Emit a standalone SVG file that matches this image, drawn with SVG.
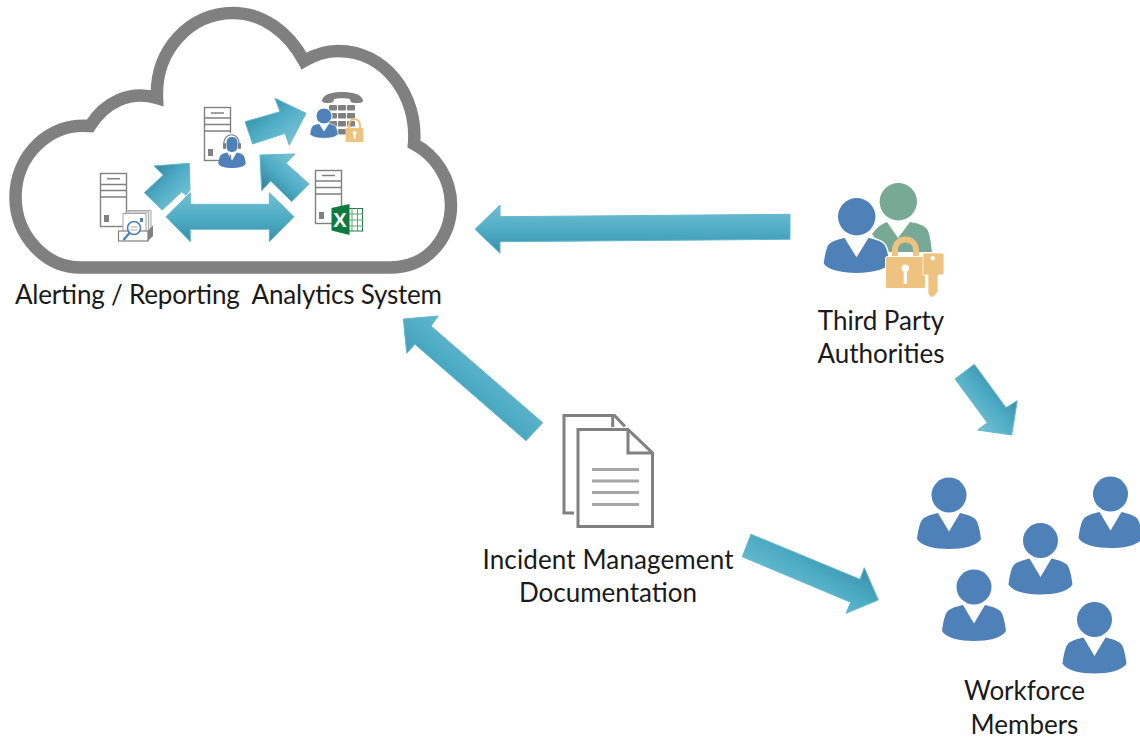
<svg xmlns="http://www.w3.org/2000/svg" width="1140" height="742" viewBox="0 0 1140 742">
<defs>
<linearGradient id="gd" x1="0" y1="0" x2="0" y2="1"><stop offset="0" stop-color="#72bfd3"/><stop offset="0.55" stop-color="#4dabc4"/><stop offset="1" stop-color="#3a8ca6"/></linearGradient>
<linearGradient id="gnw" x1="0.75" y1="0.25" x2="0.25" y2="0.75"><stop offset="0" stop-color="#72bfd3"/><stop offset="0.55" stop-color="#4dabc4"/><stop offset="1" stop-color="#3a8ca6"/></linearGradient>
<linearGradient id="gse" x1="0.25" y1="0.75" x2="0.75" y2="0.25"><stop offset="0" stop-color="#72bfd3"/><stop offset="0.55" stop-color="#4dabc4"/><stop offset="1" stop-color="#3a8ca6"/></linearGradient>
<linearGradient id="gne" x1="0.8" y1="0.8" x2="0.2" y2="0.2"><stop offset="0" stop-color="#72bfd3"/><stop offset="0.55" stop-color="#4dabc4"/><stop offset="1" stop-color="#3a8ca6"/></linearGradient>
<path id="person" d="M-11,0 L0,18.500 L11,0 C17,1.500 24,3 27,7 C30,11 31.500,22 32,26 C28,33 14,36 0,36 C-14,36 -28,33 -32,26 C-31.500,22 -30,11 -27,7 C-24,3 -17,1.500 -11,0 Z"/>
</defs>
<style>
text{font-family:Lato,"Liberation Sans",sans-serif;font-size:26px;fill:#1a1a1a;text-anchor:middle}
.a{stroke:#62b8cd;stroke-width:1;stroke-linejoin:miter}
.p{fill:#4f81b9}
.srv{fill:#fff;stroke:#808080;stroke-width:1.400}
.l{stroke:#808080;stroke-width:1.400;fill:none}
.lock{fill:#eec27f}
.doc{fill:none;stroke:#808080;stroke-width:3}
.key{fill:#808080}
</style>
<rect width="1140" height="742" fill="#fff"/>
<g id="cloud">
<path d="M80,267.500 H390 C430,267.500 451,235 451,205 C451,178 435,155 414,144 C418,95 385,51 338,51 C326,51 314,55 304,61 C288,31 262,13 233,13 C190,13 155,50 157,98 C130,90 105,102 90,126 C50,122 15.500,155 15.500,197 C15.500,235 45,267.500 80,267.500 Z" fill="#fff" stroke="#808080" stroke-width="12.500" stroke-miterlimit="6"/>
</g>
<g id="connectors">
<polygon class="a" fill="url(#gd)" points="790,214.300 790,239.300 500,241.700 500,253.300 475,229.300 500,205 500,216.700"/>
<polygon class="a" fill="url(#gnw)" points="403.300,319 438.300,316 431,326 542.700,422.700 526,440.700 415,344.300 406.700,353.300"/>
<polygon class="a" fill="url(#gse)" points="751,534.300 860,579.300 864.300,567.700 878.300,600 846,613.300 850.700,602.300 742.300,556.700"/>
<polygon class="a" fill="url(#gse)" points="974.300,364.300 1006,407.700 1017.300,400.700 1011.700,435 977.700,430 987.300,422.700 955,379"/>
<polygon class="a" fill="url(#gne)" points="245,121.700 280,111.700 275,98.300 306,113.300 289.300,145 285,133.300 252.700,144"/>
<polygon class="a" fill="url(#gnw)" points="260,155 295,154 286,163.300 309,184 291.700,201.700 270.700,181 261.700,190.700"/>
<polygon class="a" fill="url(#gne)" points="189.300,163.300 154,166 163.300,175 144.300,192.700 162.300,210 181.700,191.700 186,195 190,190"/>
<polygon class="a" fill="url(#gd)" points="166,216.700 190.300,192.700 190.300,204.300 269.300,204.300 269.300,192.700 294,216.700 269.300,241.700 269.300,229.300 190.300,229.300 190.300,241.700"/>
</g>
<g id="server-report">
<rect class="srv" x="100.500" y="173.500" width="26" height="53"/>
<path class="l" d="M100.500,184.500H126.500M100.500,190.500H126.500M100.500,197H126.500"/>
<path d="M107,178.700H120" stroke="#808080" stroke-width="1.500"/>
<rect x="104" y="215" width="5" height="7" fill="#808080"/>
<rect x="128" y="210.500" width="23" height="22" fill="#eee" stroke="#aaa"/>
<rect x="125.500" y="212" width="23" height="22" fill="#f4f4f4" stroke="#aaa"/>
<rect x="123" y="213.500" width="23" height="22" fill="#fff" stroke="#a6a6a6"/>
<rect x="140" y="218" width="3" height="4" fill="#4f81b9"/>
<polygon points="148,231 153,225 153,236 148,241" fill="#808080"/>
<rect x="118.500" y="231" width="29.500" height="10" fill="#fff" stroke="#808080" stroke-width="1.200"/>
<circle cx="134" cy="228" r="6.500" fill="#fff" stroke="#4f81b9" stroke-width="1.600"/>
<path d="M130.500,227H137.500M130.500,230H137.500" stroke="#aaa"/>
<path d="M129.500,233L123.500,240" stroke="#4f81b9" stroke-width="2.500"/>
</g>
<g id="server-agent">
<rect class="srv" x="204.500" y="107.500" width="26" height="53"/>
<path class="l" d="M204.500,118H230.500M204.500,124.500H230.500M204.500,131H230.500"/>
<path d="M211,113H224" stroke="#808080" stroke-width="1.500"/>
<rect x="208" y="149" width="5" height="7" fill="#808080"/>
<circle cx="232" cy="144" r="11" fill="#fff"/>
<path d="M224,146C222,131 241,131 239,146" fill="none" stroke="#808080" stroke-width="1.200"/>
<rect x="223" y="143" width="3" height="6" rx="1" fill="#808080"/>
<rect x="238" y="143" width="3" height="6" rx="1" fill="#808080"/>
<rect x="226.500" y="137" width="11" height="15" rx="5" fill="#4f81b9"/>
<use href="#person" class="p" transform="translate(232,152.500) scale(.43)"/>
</g>
<g id="phone">
<path class="key" d="M322,100C324,94 332,92 342,92C352,92 361,94 363,100C363,103 360,103 355,103C352,103 350,102 350,99C346,98 338,98 334,99C334,102 332,103 328,103C325,103 322,103 322,100Z"/>
<g class="key"><rect x="329" y="105" width="8" height="5.500" rx="1"/><rect x="338" y="105" width="8" height="5.500" rx="1"/><rect x="347" y="105" width="8" height="5.500" rx="1"/><rect x="329" y="113" width="8" height="5.500" rx="1"/><rect x="338" y="113" width="8" height="5.500" rx="1"/><rect x="347" y="113" width="8" height="5.500" rx="1"/><rect x="329" y="121" width="8" height="5.500" rx="1"/><rect x="338" y="121" width="8" height="5.500" rx="1"/><rect x="347" y="121" width="8" height="5.500" rx="1"/><rect x="329" y="129" width="8" height="5.500" rx="1"/><rect x="338" y="129" width="8" height="5.500" rx="1"/></g>
<circle cx="324" cy="116" r="8" class="p" stroke="#fff"/>
<use href="#person" class="p" stroke="#fff" stroke-width="1.500" transform="translate(324,123.500) scale(.44,.41)"/>
<path d="M349,129V125.500C349,117 360,117 360,125.500V129" fill="none" stroke="#eec27f" stroke-width="2.200"/>
<rect class="lock" x="345.500" y="128" width="18" height="14" rx="1"/>
<rect x="353.700" y="133" width="1.800" height="6" fill="#fff"/><circle cx="354.600" cy="133" r="1.900" fill="#fff"/>
</g>
<g id="server-excel">
<rect class="srv" x="315.500" y="170.500" width="26" height="53"/>
<path class="l" d="M315.500,181H341.500M315.500,187.500H341.500M315.500,194H341.500"/>
<path d="M322,175.500H335" stroke="#808080" stroke-width="1.500"/>
<rect x="319" y="212" width="5" height="7" fill="#808080"/>
<rect x="346" y="208.500" width="16.500" height="22.500" fill="#fff" stroke="#1f7a46"/>
<path d="M346,214H363M346,220H363M346,226H363M352,208V231M357.500,208V231" stroke="#57a877" stroke-width="1"/>
<polygon points="331.500,208 349.500,204 349.500,235 331.500,230.500" fill="#0f7a3e"/>
<text x="340" y="227" style="font-size:20px;font-weight:700;fill:#fff;font-family:'Liberation Sans',sans-serif">X</text>
</g>
<g id="authorities">
<circle cx="898.300" cy="201.700" r="18.700" fill="#78a896"/>
<path d="M887,222 L898,238 L910,222 C917,223 923,225 927,229 C930,234 931,244 932,252 H885 L872,234 C876,228 881,224 887,222Z" fill="#78a896"/>
<circle cx="856.700" cy="216.700" r="18.700" class="p"/>
<use href="#person" class="p" stroke="#fff" stroke-width="1.500" transform="translate(856.500,237) scale(1.050,1.020)"/>
<path d="M895,258V250C895,236 916,236 916,250V258" fill="none" stroke="#eec27f" stroke-width="6"/>
<rect x="885.500" y="256.500" width="40" height="32" rx="2" class="lock" stroke="#fff"/>
<circle cx="905.300" cy="268.300" r="3.700" fill="#fff"/><rect x="903.700" y="268" width="3.200" height="16" fill="#fff"/>
<path d="M923,253H942Q944,253 944,255V273Q944,275 942,275H938V292L933,297H930L928,293V275H923Z" class="lock" stroke="#fff" stroke-width=".7"/>
<circle cx="932.700" cy="258.300" r="2.300" fill="#fff"/>
<text x="881" y="330">Third Party</text>
<text x="881" y="363">Authorities</text>
</g>
<g id="documents">
<path class="doc" d="M574,513H564V415.500H614.500L625,426.500"/>
<path class="doc" d="M612.700,415.500V427"/>
<path class="doc" d="M578,429.500H628L652.500,453V526.500H578Z" style="fill:#fff"/>
<path class="doc" d="M628,429.500V453H652.500"/>
<path d="M592,469.500H639M592,481H639M592,492.500H639M592,504.500H639" stroke="#a6a6a6" stroke-width="3"/>
<text x="608" y="569" textLength="251">Incident Management</text>
<text x="608" y="602">Documentation</text>
</g>
<g id="workforce">
<g id="worker-1"><circle cx="949" cy="495" r="17.500" class="p"/><use href="#person" class="p" transform="translate(949,513)"/></g>
<g id="worker-2"><circle cx="1110.500" cy="494" r="17.500" class="p"/><use href="#person" class="p" transform="translate(1110.500,512)"/></g>
<g id="worker-3"><circle cx="1040.500" cy="540.500" r="17.500" class="p"/><use href="#person" class="p" transform="translate(1040.500,558.500)"/></g>
<g id="worker-4"><circle cx="974" cy="587" r="17.500" class="p"/><use href="#person" class="p" transform="translate(974,605)"/></g>
<g id="worker-5"><circle cx="1094.500" cy="619.500" r="17.500" class="p"/><use href="#person" class="p" transform="translate(1094.500,637.500)"/></g>
<text x="1024.500" y="700">Workforce</text>
<text x="1024.500" y="734">Members</text>
</g>
<g id="cloud-label"><text x="228.500" y="304" xml:space="preserve" textLength="427">Alerting / Reporting  Analytics System</text></g>
</svg>
